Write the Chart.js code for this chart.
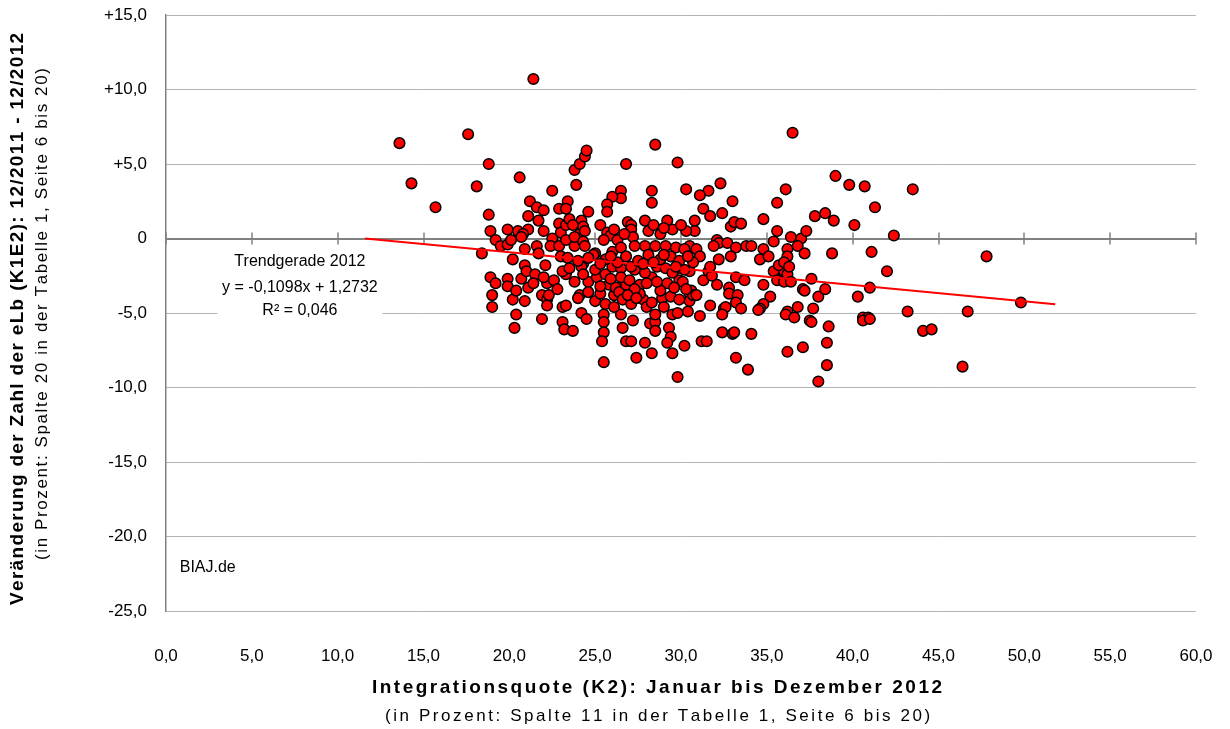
<!DOCTYPE html>
<html lang="de">
<head>
<meta charset="utf-8">
<script src="https://cdn.jsdelivr.net/npm/chart.js@4.4.0/dist/chart.umd.min.js"></script>
<style>
  html, body { margin: 0; padding: 0; background: #fff; }
  #wrap { width: 1230px; height: 729px; }
</style>
</head>
<body>
<div id="wrap"><canvas id="chart" width="1230" height="729"></canvas></div>
<script>
// Integrationsquote (K2) je Jobcenter, in Prozent
const quoteK2 = [
  13.6, 14.3, 15.7, 17.6, 18.1, 18.8, 21.4, 20.6, 22.5, 23.8,
  23.9, 24.1, 24.4, 24.5, 26.8, 28.5, 29.8, 26.5, 26.5, 26.0,
  28.3, 28.3, 30.3, 36.5, 32.3, 31.6, 31.1, 33.0, 35.6, 36.1,
  39.0, 39.8, 40.7, 43.5, 41.3,
  18.8, 21.2, 21.6, 22.0, 22.9, 23.4, 23.3, 21.1, 21.7, 18.9,
  19.9, 20.5, 21.1, 20.8, 22.0, 22.9, 23.0, 23.3, 19.2, 19.5,
  19.9, 20.1, 20.7, 22.5, 22.4, 22.9, 23.3, 18.4, 20.9, 21.6,
  21.7, 20.2, 20.9, 22.1, 23.0, 23.4, 24.1, 23.9, 23.8,
  18.9, 19.2, 19.9, 19.9, 20.7, 21.1, 21.0, 19.0, 19.0, 20.2,
  20.9, 20.4, 20.3, 21.9, 22.2, 22.2, 22.2, 21.9, 23.1, 23.3,
  23.1, 23.2, 23.3, 23.1, 22.3,
  23.8, 24.1, 24.0, 24.6, 25.1, 25.0, 25.3, 25.6, 25.8, 24.2,
  24.5, 23.7, 25.5, 25.5, 25.5, 25.4, 25.5, 26.1, 26.2, 26.4,
  26.5, 26.6, 26.8, 27.1, 27.2, 26.6, 26.8, 27.1, 27.4, 27.3,
  27.6, 27.8, 28.0, 27.9, 28.2, 28.5, 28.5, 28.3, 28.5, 28.3,
  28.9, 29.2, 29.3, 29.4, 29.2, 29.5, 29.8, 29.4, 29.5, 29.8,
  30.2, 30.5, 30.5, 30.4, 29.9, 30.1, 29.8, 28.8, 27.6,
  31.3, 32.1, 32.8, 32.8, 33.3, 33.2, 33.5, 31.7, 32.5, 32.6,
  32.4, 31.1, 30.6, 30.7, 30.9, 33.2, 33.7, 34.8, 35.2, 34.8,
  34.6, 34.5, 35.4, 35.6, 36.0, 36.0, 36.2, 36.4, 36.2, 36.1,
  36.6, 36.8, 37.1, 37.2, 37.6, 37.7, 37.5, 37.6, 38.0, 32.4,
  33.0, 33.1, 34.1, 31.2, 31.5, 33.2, 33.9, 36.2, 37.1, 38.0,
  30.5, 31.6, 31.8,
  38.4, 38.6, 38.5, 38.5, 38.8, 41.1, 47.8, 42.0, 41.0, 40.3,
  40.6, 40.9, 40.6, 41.0, 43.2, 44.1, 44.6, 46.7, 46.4, 49.8,
  38.4, 37.8, 38.9, 40.1, 42.4,
  31.3, 31.7, 32.4, 30.8, 30.8, 32.9, 33.1, 33.5, 34.8, 35.6,
  35.4, 34.8, 34.6, 35.1, 36.4, 36.2, 36.2, 37.0, 36.8, 37.2,
  37.3, 32.1, 32.2, 31.9, 32.7, 33.2, 33.8, 34.1, 32.9, 32.2,
  30.5, 30.9, 31.1, 30.7, 31.7, 35.7, 36.0, 36.3,
  25.7, 25.7, 24.6, 23.5, 24.2, 24.3, 24.4, 23.7, 25.3, 25.7,
  25.9, 26.9, 27.1, 27.9, 27.1, 28.1, 29.2, 29.5, 30.3, 28.8,
  26.3, 27.2, 27.9, 25.5, 23.8, 24.3, 24.4, 25.0, 26.0, 26.5,
  27.3, 28.5, 29.1, 29.7, 30.2, 24.3, 24.9,
  23.5, 24.2, 25.0, 26.0, 26.5, 27.1, 27.9, 28.6, 29.1, 29.5,
  30.2, 24.0, 25.6, 26.3, 26.8, 27.5, 28.1, 28.8, 29.4, 29.9,
  30.4,
  24.3, 25.3, 25.9, 26.5, 27.0, 27.3, 28.0, 28.6, 29.6, 30.3,
  24.6, 25.3, 25.9, 27.8, 28.4, 29.0, 29.7,
  24.6, 25.6, 26.9, 27.4, 28.3, 29.0, 29.9, 26.1,
  26.1, 26.7, 28.4, 29.0, 30.0,
  21.5, 22.0, 22.6, 21.4, 20.4, 22.8
];

// Veraenderung der Zahl der eLb (K1E2) 12/2011 - 12/2012, in Prozent
const changeK1E2 = [
   6.4,  3.7,  2.1,  7.0,  3.5,  5.0, 10.7,  4.1,  3.2,  4.6,
   3.6,  5.0,  5.5,  5.9,  5.0,  6.3,  5.1,  3.2,  2.7,  2.8,
   3.2,  2.4,  3.3,  7.1,  3.7,  3.2,  2.9,  2.5,  2.4,  3.3,
   4.2,  3.6,  3.5,  3.3,  2.1,
   1.6,  2.5,  2.1,  1.9,  2.0,  2.5,  2.0,  1.5,  1.2,  0.5,
   0.6,  0.5,  0.6,  0.3,  0.5,  1.0,  0.4,  0.9, -0.1, -0.5,
  -0.4, -0.1,  0.1,  0.0, -0.5, -0.5, -0.1, -1.0, -0.7, -0.5,
  -1.0, -1.4, -1.8, -1.8, -1.2, -1.3,  0.3, -0.2, -0.5,
  -2.6, -3.0, -2.7, -3.2, -2.7, -3.3, -2.2, -3.8, -4.6, -4.1,
  -4.2, -5.1, -6.0, -3.8, -3.0, -4.1, -4.5, -5.4, -4.6, -4.5,
  -5.6, -6.1, -2.4, -2.2, -3.8,
  -2.9, -3.8, -4.0, -2.9, -2.6, -4.2, -3.7, -2.4, -3.1, -5.0,
  -5.4, -6.2, -5.1, -5.6, -6.3, -6.9, -8.3, -3.8, -3.3, -3.6,
  -5.1, -4.1, -3.1, -4.4, -5.5, -6.0, -6.9, -6.9, -8.0, -2.1,
  -3.1, -4.1, -4.6, -7.0, -5.7, -5.6, -6.2, -7.7, -5.1, -2.6,
  -4.0, -3.0, -6.0, -6.6, -7.0, -7.7, -9.3, -3.9, -5.1, -5.0,
  -7.2, -3.7, -4.2, -4.9, -2.8, -2.9, -2.0, -3.5, -3.7,
  -2.8, -3.1, -3.3, -3.7, -3.8, -4.3, -4.7, -4.5, -4.7, -4.6,
  -5.1, -5.2, -3.5, -3.8, -3.8, -2.6, -2.8, -3.1, -3.9, -4.4,
  -4.7, -4.8, -2.2, -2.8, -2.9, -2.2, -2.4, -2.9, -4.9, -5.1,
  -5.3, -4.6, -3.4, -3.5, -2.7, -4.7, -5.5, -5.6, -3.9, -6.3,
  -6.4, -6.3, -6.4, -6.9, -6.9, -8.0, -8.8, -7.6, -7.3, -9.6,
  -2.2, -2.2, -2.5,
  -3.4, -5.9, -7.0, -8.5, -1.0, -0.9, -1.2, -2.2, -3.3, -3.9,
  -5.3, -5.3, -5.5, -5.4, -4.9, -6.2, -6.1, -4.9, -8.6, -4.3,
   1.7,  1.5,  1.2,  0.9,  0.2,
   2.0,  1.5,  1.7,  1.2,  0.5,  0.8,  1.1,  1.0,  1.3,  0.5,
  -0.2, -0.7, -1.4, -1.2,  0.1, -0.7, -1.2,  0.0, -0.5, -1.0,
   0.5, -0.1, -0.3, -0.5, -0.3, -0.6, -0.5, -0.5, -1.2, -1.4,
  -0.5, -0.7, -1.2, -1.6, -1.9, -1.8, -1.6, -1.9,
   2.3,  1.8,  1.8,  1.3,  1.2,  0.8,  0.5,  0.9,  0.9,  0.4,
   0.2,  1.1,  0.9,  1.2,  0.6,  0.5,  1.2,  0.6,  0.5,  0.3,
  -0.1,  0.1, -0.5, -0.1,  0.1, -0.2, -0.5, -1.0, -0.9, -0.6,
  -0.5, -0.5, -0.5, -0.6, -0.7, -1.7, -1.1,
  -2.0, -1.9, -2.1, -1.9, -2.0, -1.9, -2.3, -1.9, -2.0, -2.3,
  -2.1, -1.5, -1.4, -1.6, -1.2, -1.5, -1.1, -1.4, -1.2, -1.5,
  -1.2,
  -2.4, -3.2, -2.7, -2.6, -2.8, -3.4, -3.0, -2.9, -3.3, -3.4,
  -1.3, -1.7, -1.2, -1.7, -1.6, -1.1, -1.9,
  -3.6, -4.4, -3.8, -4.0, -4.3, -4.6, -4.1, -4.6,
   0.6,  0.3,  0.9,  0.7,  0.9,
  -2.4, -2.6, -2.8, -3.0, -3.5, -3.4
];

// Achsen
const xTicks = [0, 5, 10, 15, 20, 25, 30, 35, 40, 45, 50, 55, 60];
const yTicks = [-25, -20, -15, -10, -5, 0, 5, 10, 15];

// Trendgerade 2012 (Endpunkte laut Gleichung y = -0,1098x + 1,2732)
const trendX = [11.6, 51.8];
const trendY = [0.0, -4.41];

const fontFamily = '"Liberation Sans", Arial, sans-serif';
const fmt = v => v.toFixed(1).replace('.', ',');

const points = quoteK2.map((q, i) => ({ x: q, y: changeK1E2[i] }));
const trend = trendX.map((q, i) => ({ x: q, y: trendY[i] }));

// Text zentriert auf eine feste Breite sperren (wie im Excel-Export)
function spacedText(ctx, text, cx, cy, width) {
  const natural = ctx.measureText(text).width;
  const extra = Math.max(0, (width - natural) / (text.length - 1));
  let pos = cx - Math.max(width, natural) / 2;
  ctx.textAlign = 'left';
  for (const ch of text) {
    ctx.fillText(ch, pos, cy);
    pos += ctx.measureText(ch).width + extra;
  }
}

// Zusatztexte, Trendkasten und Teilstriche auf der Nulllinie
const annotations = {
  id: 'annotations',
  beforeDatasetsDraw(chart) {
    const { ctx, scales: { x, y } } = chart;
    ctx.save();

    // Teilstriche auf der Nulllinie
    const y0 = y.getPixelForValue(0);
    ctx.strokeStyle = '#808080';
    ctx.lineWidth = 1.5;
    xTicks.forEach(v => {
      const px = Math.round(x.getPixelForValue(v));
      ctx.beginPath();
      ctx.moveTo(px, y0 - 6);
      ctx.lineTo(px, y0 + 6);
      ctx.stroke();
    });

    // Kasten mit der Trendgleichung
    const left = x.getPixelForValue(3.0);
    const right = x.getPixelForValue(12.6);
    const top = y.getPixelForValue(-0.45);
    const bottom = y.getPixelForValue(-6.0);
    ctx.fillStyle = '#fff';
    ctx.fillRect(left, top, right - left, bottom - top);

    ctx.fillStyle = '#000';
    ctx.font = '16px ' + fontFamily;
    ctx.textAlign = 'center';
    ctx.textBaseline = 'middle';
    const cx = x.getPixelForValue(7.8);
    ctx.fillText('Trendgerade 2012', cx, y.getPixelForValue(-1.53));
    ctx.fillText('y = -0,1098x + 1,2732', cx, y.getPixelForValue(-3.31));
    ctx.fillText('R² = 0,046', cx, y.getPixelForValue(-4.81));

    // Quelle
    ctx.textAlign = 'left';
    ctx.font = '16px ' + fontFamily;
    ctx.fillText('BIAJ.de', x.getPixelForValue(0.8), y.getPixelForValue(-22.1));
    ctx.restore();
  },
  afterDraw(chart) {
    const { ctx } = chart;
    ctx.save();
    ctx.fillStyle = '#000';
    ctx.textBaseline = 'middle';

    // x-Achse
    ctx.font = 'bold 19px ' + fontFamily;
    spacedText(ctx, 'Integrationsquote (K2): Januar bis Dezember 2012', 657, 688, 570);
    ctx.font = '17px ' + fontFamily;
    spacedText(ctx, '(in Prozent: Spalte 11 in der Tabelle 1, Seite 6 bis 20)', 656, 716, 542);

    // y-Achse
    ctx.translate(18, 320);
    ctx.rotate(-Math.PI / 2);
    ctx.font = 'bold 19px ' + fontFamily;
    spacedText(ctx, 'Veränderung der Zahl der eLb (K1E2): 12/2011 - 12/2012', 0, 0, 570);
    ctx.font = '17px ' + fontFamily;
    spacedText(ctx, '(in Prozent: Spalte 20 in der Tabelle 1, Seite 6 bis 20)', 5, 24, 490);
    ctx.restore();
  }
};

new Chart(document.getElementById('chart'), {
  type: 'scatter',
  data: {
    datasets: [
      {
        label: 'Trendgerade 2012',
        type: 'line',
        data: trend,
        borderColor: '#ff0000',
        borderWidth: 2,
        pointRadius: 0,
        fill: false,
        order: 0
      },
      {
        label: 'Jobcenter',
        data: points,
        backgroundColor: '#ff0000',
        borderColor: '#000000',
        borderWidth: 1.5,
        pointRadius: 5.3,
        order: 1
      }
    ]
  },
  options: {
    responsive: false,
    animation: false,
    layout: { padding: { top: 15, right: 34, left: 0, bottom: 0 } },
    plugins: {
      legend: { display: false },
      tooltip: { enabled: false }
    },
    scales: {
      x: {
        type: 'linear',
        min: xTicks[0],
        max: xTicks[xTicks.length - 1],
        grid: { display: false, drawTicks: false },
        border: { display: false },
        ticks: {
          stepSize: xTicks[1] - xTicks[0],
          padding: 35,
          color: '#000',
          font: { family: fontFamily, size: 17 },
          callback: v => fmt(v)
        },
        afterFit: s => {
          s.height = 118;
          s.paddingLeft = 0;
          s.paddingRight = 0;
        }
      },
      y: {
        type: 'linear',
        min: yTicks[0],
        max: yTicks[yTicks.length - 1],
        grid: {
          drawTicks: false,
          color: c => (c.tick && c.tick.value === 0 ? '#808080' : '#b4b4b4'),
          lineWidth: c => (c.tick && c.tick.value === 0 ? 2 : 1)
        },
        border: { display: true, color: '#808080', width: 1.5 },
        ticks: {
          stepSize: yTicks[1] - yTicks[0],
          padding: 19,
          color: '#000',
          font: { family: fontFamily, size: 17 },
          callback: v => (v === 0 ? '0' : (v > 0 ? '+' : '') + fmt(v))
        },
        afterFit: s => {
          s.width = 166;
          s.paddingTop = 0;
          s.paddingBottom = 0;
        }
      }
    }
  },
  plugins: [annotations]
});
</script>
</body>
</html>
